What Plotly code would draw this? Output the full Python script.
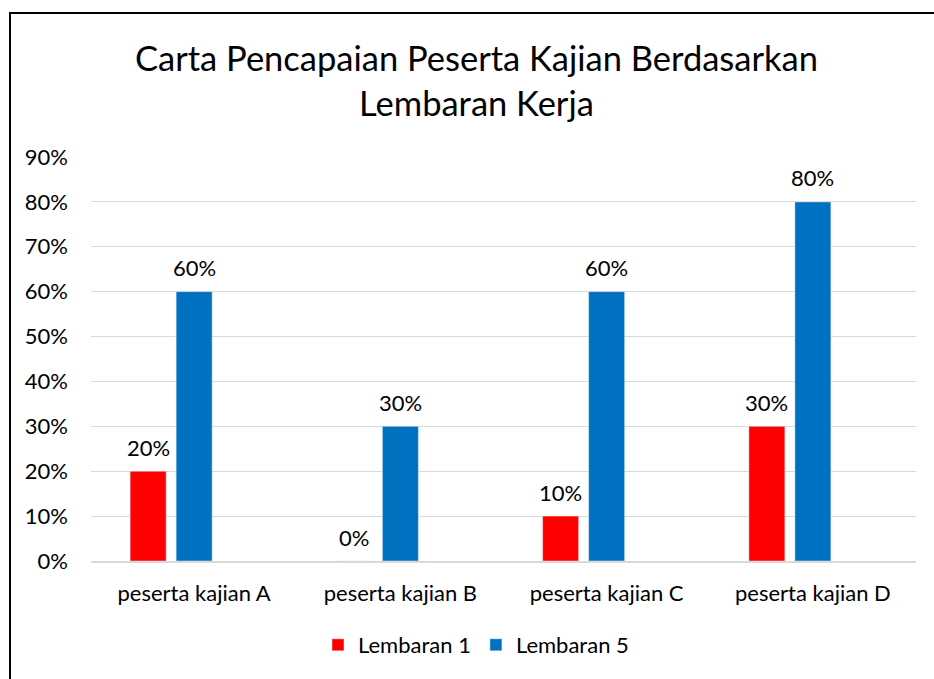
import plotly.graph_objects as go

categories = ["peserta kajian A", "peserta kajian B", "peserta kajian C", "peserta kajian D"]
lembaran1 = [0.20, 0.00, 0.10, 0.30]
lembaran5 = [0.60, 0.30, 0.60, 0.80]
series_names = ["Lembaran 1", "Lembaran 5"]
tick_vals = [0, 0.1, 0.2, 0.3, 0.4, 0.5, 0.6, 0.7, 0.8, 0.9]
tick_text = ["0%", "10%", "20%", "30%", "40%", "50%", "60%", "70%", "80%", "90%"]
title_text = "Carta Pencapaian Peserta Kajian Berdasarkan<br>Lembaran Kerja"

FONT = "Lato"
FS = 22
W, H = 934, 679
L, R, T, B = 91, 18, 157, 118
pw, ph = W - L - R, H - T - B
cat_px = pw / 4

def px_x(x):
    return (x - L) / pw

def px_y(y):
    return (H - B - y) / ph

bw = 36 / cat_px
series = [
    (series_names[0], lembaran1, "#FF0000", -64),
    (series_names[1], lembaran5, "#0070C0", -18),
]

fig = go.Figure()
annotations = []
for name, vals, color, off in series:
    fig.add_trace(go.Bar(
        x=categories, y=vals, name=name,
        marker_color=color, width=bw, offset=off / cat_px,
        hoverinfo="skip",
    ))
    for c, v in zip(categories, vals):
        annotations.append(dict(
            x=c, y=v, xref="x", yref="y", text=f"{v:.0%}", showarrow=False,
            xanchor="center", yanchor="middle", xshift=off + 18, yshift=24,
            font=dict(family=FONT, size=FS, color="#000000"),
        ))

annotations.append(dict(text=title_text, xref="paper", yref="paper",
                        x=px_x(476.5), y=px_y(80.5), xanchor="center", yanchor="middle",
                        showarrow=False, font=dict(family=FONT, size=34.5, color="#000000")))

bx0, by0, bx1, by1 = px_x(10), px_y(700), px_x(950), px_y(13)
border_path = f"M {bx0},{by0} L {bx0},{by1} L {bx1},{by1}"

fig.update_layout(
    width=W, height=H,
    margin=dict(l=L, r=R, t=T, b=B, pad=0),
    paper_bgcolor="white", plot_bgcolor="white",
    font=dict(family=FONT, size=FS, color="#000000"),
    barmode="overlay",
    showlegend=True,
    legend=dict(orientation="h", x=px_x(476), xanchor="center", y=px_y(645), yanchor="middle",
                font=dict(family=FONT, size=FS, color="#000000"), itemwidth=30,
                traceorder="normal"),
    xaxis=dict(showgrid=False, showline=True, linecolor="#D9D9D9", linewidth=1.5,
               ticks="", tickfont=dict(family=FONT, size=FS, color="#000000"),
               ticklabelstandoff=12, fixedrange=True),
    yaxis=dict(range=[0, 0.9], tickvals=tick_vals, ticktext=tick_text,
               showgrid=True, gridcolor="#D9D9D9", gridwidth=1.2, zeroline=False,
               showline=False, ticks="", tickfont=dict(family=FONT, size=FS, color="#000000"),
               ticklabelstandoff=22, fixedrange=True),
    shapes=[dict(type="path", xref="paper", yref="paper", path=border_path,
                 line=dict(color="#000000", width=2), layer="above")],
    annotations=annotations,
)

fig.write_html("out.html", config={"displayModeBar": False},
               post_script="document.body.style.margin='0';document.body.style.overflow='hidden';")
